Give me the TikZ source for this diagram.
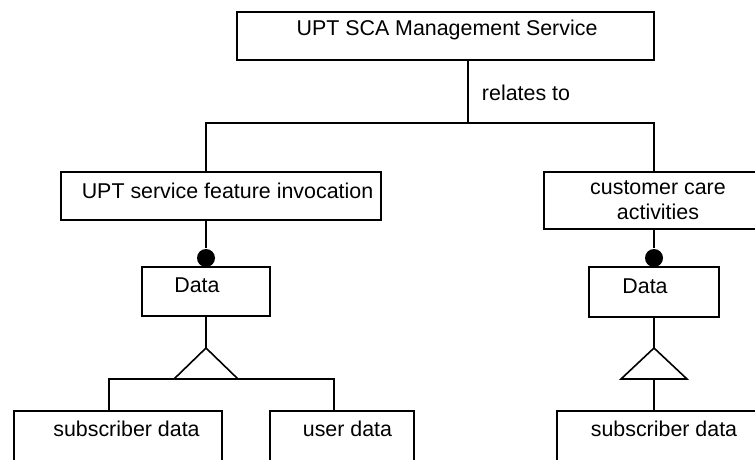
\documentclass[tikz,border=0pt]{standalone}
\usepackage{fontspec}
\setmainfont{Liberation Sans}
\begin{document}
\begin{tikzpicture}[x=1pt, y=-1pt, line width=1.6pt,
  box/.style={draw, rectangle, inner sep=0pt, line width=1.6pt},
  lbl/.style={anchor=base, inner sep=0pt, align=center,
              font=\fontsize{21.4}{25}\selectfont},
  dot/.style={circle, fill=black, draw=none, inner sep=0pt, minimum size=18pt}]
\useasboundingbox (0,0) rectangle (755,459);
\clip (0,0) rectangle (755,459);

% boxes
\node[box, minimum width=417pt, minimum height=48pt] (top)   at (445.5,36) {};
\node[box, minimum width=320pt, minimum height=48pt] (inv)   at (221,196) {};
\node[box, minimum width=220pt, minimum height=57pt] (care)  at (654,200.5) {};
\node[box, minimum width=128pt, minimum height=49pt] (dataL) at (206,291.5) {};
\node[box, minimum width=130pt, minimum height=50pt] (dataR) at (654,292) {};
\node[box, minimum width=208pt, minimum height=64pt] (subL)  at (118,443) {};
\node[box, minimum width=144pt, minimum height=64pt] (user)  at (342,443) {};
\node[box, minimum width=203pt, minimum height=64pt] (subR)  at (658.5,443) {};

% labels (the two-line label is anchored on its last baseline)
\node[lbl] (tTop)   at (447,35)    {UPT SCA Management Service};
\node[lbl] (tRel)   at (526,100)   {relates to};
\node[lbl] (tInv)   at (227.5,198) {UPT service feature invocation};
\node[lbl] (tCare)  at (658,219)   {customer care\\activities};
\node[lbl] (tDataL) at (197,292)   {Data};
\node[lbl] (tDataR) at (645,293)   {Data};
\node[lbl] (tSubL)  at (126.5,436) {subscriber data};
\node[lbl] (tUser)  at (347.5,436) {user data};
\node[lbl] (tSubR)  at (664,436)   {subscriber data};

% "relates to" tree
\coordinate (j)  at (468,123);
\coordinate (jl) at (206,123);
\coordinate (jr) at (654,123);
\draw (j |- top.south) -- (j);
\draw (jl |- inv.north) -- (jl) -- (jr) -- (jr |- care.north);

% aggregation dots
\node[dot] (dotL) at (206,258) {};
\node[dot] (dotR) at (654,258) {};
\draw (jl |- inv.south) -- (dotL);
\draw (jr |- care.south) -- (dotR);

% left specialisation
\coordinate (aL)  at (206,348);
\coordinate (bL1) at (174,379);
\coordinate (bL2) at (238,379);
\coordinate (hL1) at (109,379);
\coordinate (hL2) at (334,379);
\draw (dataL.south) -- (aL);
\draw[line join=miter] (aL) -- (bL1) -- (bL2) -- cycle;
\draw (hL1 |- subL.north) -- (hL1) -- (hL2) -- (hL2 |- user.north);

% right specialisation
\coordinate (aR)  at (654,348);
\coordinate (bR1) at (621,379);
\coordinate (bR2) at (687,379);
\coordinate (hR)  at (654,379);
\draw (dataR.south) -- (aR);
\draw[line join=miter] (aR) -- (bR1) -- (bR2) -- cycle;
\draw (hR) -- (hR |- subR.north);
\end{tikzpicture}
\end{document}
